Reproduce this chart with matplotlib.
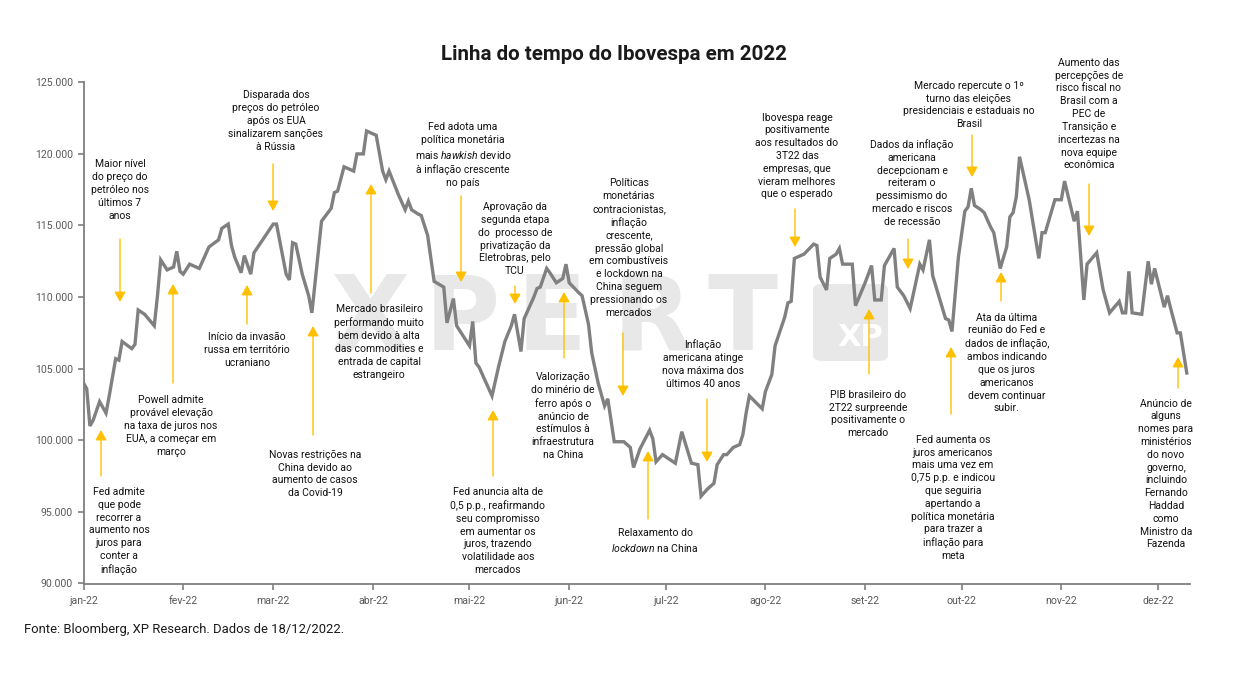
import matplotlib
matplotlib.use("Agg")
import matplotlib.pyplot as plt
from matplotlib.ticker import FuncFormatter
from matplotlib.patches import FancyBboxPatch
import pandas as pd

plt.rcParams['font.family'] = ['Roboto', 'DejaVu Sans']
plt.rcParams['mathtext.fontset'] = 'custom'
plt.rcParams['mathtext.rm'] = 'Roboto'
plt.rcParams['mathtext.it'] = 'Roboto:italic'

W, H = 1252, 674

# datas (mm-dd) e fechamento aproximado do Ibovespa (mil pontos)
datas = [
    "01-01", "01-02", "01-03", "01-04", "01-06", "01-08", "01-09", "01-11", "01-12", "01-13",
    "01-16", "01-17", "01-18", "01-20", "01-23", "01-24", "01-25", "01-27", "01-29", "01-30", "01-31",
    "02-01", "02-03", "02-06", "02-07", "02-09", "02-12", "02-13", "02-15", "02-16", "02-17",
    "02-19", "02-20", "02-22", "02-23",
    "03-01", "03-02", "03-05", "03-06", "03-07", "03-08", "03-10", "03-12", "03-13", "03-16",
    "03-19", "03-20", "03-21", "03-23", "03-26", "03-27", "03-29", "03-30",
    "04-02", "04-04", "04-05", "04-06", "04-09", "04-11", "04-12", "04-13", "04-15", "04-16",
    "04-18", "04-20", "04-23", "04-24", "04-26", "04-27",
    "05-01", "05-02", "05-03", "05-04", "05-08", "05-10", "05-12", "05-14", "05-15", "05-17",
    "05-18", "05-21", "05-22", "05-23", "05-25", "05-26", "05-28", "05-30", "05-31",
    "06-01", "06-04", "06-05", "06-07", "06-08", "06-10", "06-12", "06-13", "06-15", "06-18",
    "06-20", "06-21", "06-23", "06-26", "06-27", "06-28", "06-30",
    "07-04", "07-06", "07-09", "07-11", "07-12", "07-14", "07-16", "07-17", "07-19", "07-20",
    "07-22", "07-24", "07-25", "07-26", "07-27", "07-31",
    "08-01", "08-03", "08-04", "08-07", "08-08", "08-09", "08-10", "08-13", "08-16", "08-17",
    "08-18", "08-20", "08-21", "08-23", "08-24", "08-25", "08-28", "08-29",
    "09-01", "09-03", "09-04", "09-06", "09-07", "09-10", "09-11", "09-13", "09-15", "09-18",
    "09-19", "09-21", "09-22", "09-26", "09-27", "09-28", "09-30",
    "10-02", "10-03", "10-04", "10-05", "10-07", "10-08", "10-10", "10-11", "10-13", "10-15",
    "10-16", "10-17", "10-18", "10-19", "10-22", "10-25", "10-26", "10-27", "10-30",
    "11-01", "11-02", "11-05", "11-06", "11-08", "11-09", "11-12", "11-14", "11-16", "11-19",
    "11-20", "11-21", "11-22", "11-23", "11-26", "11-28", "11-29", "11-30",
    "12-03", "12-04", "12-05", "12-07", "12-08", "12-10",
]
ibov = [
    104.0, 103.6, 101.0, 101.4, 102.7, 101.9, 103.1, 105.7, 105.6, 106.9,
    106.4, 106.7, 109.1, 108.8, 108.0, 110.1, 112.6, 111.9, 112.1, 113.2, 111.8,
    111.6, 112.3, 112.0, 112.5, 113.5, 114.0, 114.8, 115.1, 113.6, 112.8,
    111.7, 112.9, 111.6, 113.1,
    115.1, 115.1, 111.6, 111.2, 113.8, 113.7, 111.6, 110.1, 108.9, 115.3,
    116.2, 117.3, 117.4, 119.1, 118.8, 120.0, 120.0, 121.6,
    121.3, 118.8, 118.2, 118.8, 117.1, 116.1, 116.7, 116.1, 115.8, 115.7,
    114.3, 111.1, 110.7, 108.2, 109.9, 108.0,
    106.6, 108.3, 105.4, 105.1, 103.1, 105.1, 106.9, 108.0, 108.8, 106.2,
    108.5, 110.0, 110.6, 110.7, 112.0, 111.7, 111.0, 111.3, 112.3,
    111.0, 110.3, 110.1, 108.1, 106.1, 104.0, 102.4, 102.9, 99.9, 99.9,
    99.5, 98.1, 99.4, 100.7, 100.1, 98.5, 99.0,
    98.4, 100.6, 98.4, 98.3, 96.1, 96.6, 97.0, 98.3, 99.0, 99.0,
    99.5, 99.7, 100.4, 101.9, 103.1, 102.2,
    103.4, 104.6, 106.6, 108.6, 109.6, 109.7, 112.7, 113.0, 113.7, 113.6,
    111.4, 110.5, 112.7, 113.0, 113.4, 112.3, 112.3, 109.4,
    111.0, 112.2, 109.8, 109.8, 112.2, 113.4, 110.7, 110.1, 109.2, 112.3,
    111.9, 114.0, 111.5, 108.5, 108.4, 107.6, 112.8,
    116.0, 116.3, 117.6, 116.4, 116.1, 115.9, 114.9, 114.5, 112.0, 113.5,
    115.6, 115.9, 117.0, 119.8, 116.8, 112.7, 114.5, 114.5, 116.8,
    116.8, 118.1, 115.3, 116.0, 109.8, 112.3, 113.1, 110.5, 108.9, 109.7,
    108.9, 108.9, 111.8, 108.9, 108.8, 112.5, 110.9, 112.0,
    109.3, 110.1, 109.2, 107.5, 107.5, 104.7,
]
meses = ["jan-22", "fev-22", "mar-22", "abr-22", "mai-22", "jun-22",
         "jul-22", "ago-22", "set-22", "out-22", "nov-22", "dez-22"]
y_ticks = [90000, 95000, 100000, 105000, 110000, 115000, 120000, 125000]

# texto, centro x, centro y, x da seta, y inicio, y ponta  (pixels da figura)
eventos = [
    ("Maior nível\ndo preço do\npetróleo nos\núltimos 7\nanos", 120, 190, 120, 239, 302),
    ("Fed admite\nque pode\nrecorrer a\naumento nos\njuros para\nconter a\ninflação", 119, 531, 101, 476, 430),
    ("Powell admite\nprovável elevação\nna taxa de juros nos\nEUA, a começar em\nmarço", 171, 426, 173, 383, 284),
    ("Início da invasão\nrussa em território\nucraniano", 247, 350, 247, 324, 285),
    ("Disparada dos\npreços do petróleo\napós os EUA\nsinalizarem sanções\nà Rússia", 276, 121, 273, 164, 211),
    ("Novas restrições na\nChina devido ao\naumento de casos\nda Covid-19", 315, 474, 313, 435, 326),
    ("Mercado brasileiro\nperformando muito\nbem devido à alta\ndas commodities e\nentrada de capital\nestrangeiro", 379, 342, 371, 293, 184),
    ("Fed adota uma\npolítica monetária\nmais $\\it{hawkish}$ devido\nà inflação crescente\nno país", 463, 155, 461, 196, 282),
    ("Aprovação da\nsegunda etapa\ndo  processo de\nprivatização da\nEletrobras, pelo\nTCU", 515, 239, 515, 286, 304),
    ("Valorização\ndo minério de\nferro após o\nanúncio de\nestímulos à\ninfraestrutura\nna China", 563, 416, 564, 358, 292),
    ("Fed anuncia alta de\n0,5 p.p., reafirmando\nseu compromisso\nem aumentar os\njuros, trazendo\nvolatilidade aos\nmercados", 498, 531, 493, 476, 410),
    ("Políticas\nmonetárias\ncontracionistas,\ninflação\ncrescente,\npressão global\nem combustíveis\ne lockdown na\nChina seguem\npressionando os\nmercados", 629, 248, 623, 333, 396),
    ("Relaxamento do\n$\\it{lockdown}$ na China", 655, 541, 648, 519, 451),
    ("Inflação\namericana atinge\nnova máxima dos\núltimos 40 anos", 703, 364, 707, 399, 462),
    ("Ibovespa reage\npositivamente\naos resultados do\n3T22 das\nempresas, que\nvieram melhores\nque o esperado", 797, 156, 795, 209, 247),
    ("PIB brasileiro do\n2T22 surpreende\npositivamente o\nmercado", 868, 414, 869, 374, 309),
    ("Dados da inflação\namericana\ndecepcionam e\nreiteram o\npessimismo do\nmercado e riscos\nde recessão", 912, 183, 908, 239, 269),
    ("Mercado repercute o 1º\nturno das eleições\npresidenciais e estaduais no\nBrasil", 969, 105, 972, 135, 177),
    ("Fed aumenta os\njuros americanos\nmais uma vez em\n0,75 p.p. e indicou\nque seguiria\napertando a\npolítica monetária\npara trazer a\ninflação para\nmeta", 953, 498, 951, 414, 347),
    ("Ata da última\nreunião do Fed e\ndados de inflação,\nambos indicando\nque os juros\namericanos\ndevem continuar\nsubir.", 1007, 363, 1001, 301, 272),
    ("Aumento das\npercepções de\nrisco fiscal no\nBrasil com a\nPEC de\nTransição e\nincertezas na\nnova equipe\neconômica", 1089, 114, 1089, 184, 236),
    ("Anúncio de\nalguns\nnomes para\nministérios\ndo novo\ngoverno,\nincluindo\nFernando\nHaddad\ncomo\nMinistro da\nFazenda", 1166, 474, 1178, 388, 357),
]


def fp(x, y):
    return x / W, 1 - y / H


x = pd.to_datetime(["2022-" + d for d in datas])
y = [v * 1000 for v in ibov]
inicio_mes = pd.date_range("2022-01-01", periods=12, freq="MS")

fig = plt.figure(figsize=(W / 100, H / 100), dpi=100)
ax = fig.add_axes([83.5 / W, 1 - 583.5 / H, 1106.5 / W, (583.5 - 82.3) / H])

# marca d'agua
for letra, lx in zip("XPERT", [370, 462, 552, 652, 742]):
    ax.text(*fp(lx, 322), letra, transform=fig.transFigure, ha="center", va="center",
            fontsize=74, fontweight="bold", family="DejaVu Sans", color="#e8e8e8", zorder=0.3)
caixa = FancyBboxPatch(fp(813, 361), 75 / W, 77 / H, boxstyle="round,pad=0,rounding_size=0.008",
                       transform=fig.transFigure, facecolor="#e8e8e8", edgecolor="none", zorder=0.3)
ax.add_patch(caixa)
ax.text(*fp(860, 338), "XP", transform=fig.transFigure, ha="center", va="center",
        fontsize=22, fontweight="bold", family="DejaVu Sans", color="white", zorder=0.35)

ax.plot(x, y, color="#808080", lw=2.4, solid_joinstyle="miter", zorder=2)

ax.set_xlim(pd.Timestamp("2022-01-01"), pd.Timestamp("2022-01-01") + pd.Timedelta(days=344))
ax.set_ylim(90000, 125000)
ax.set_xticks(inicio_mes)
ax.set_xticklabels(meses)
ax.set_yticks(y_ticks)
ax.yaxis.set_major_formatter(FuncFormatter(lambda v, p: format(int(v), ',').replace(',', '.')))
ax.tick_params(colors="#7f7f7f", labelcolor="#595959", labelsize=7.6, length=4, width=1.2)
ax.tick_params(axis="x", pad=5)
for s in ["top", "right"]:
    ax.spines[s].set_visible(False)
for s in ["left", "bottom"]:
    ax.spines[s].set_color("#7f7f7f")
    ax.spines[s].set_linewidth(1.3)
ax.patch.set_alpha(0)

fig.text(*fp(614, 55), "Linha do tempo do Ibovespa em 2022", ha="center", va="center",
         fontsize=14.8, fontweight="bold", color="#1a1a1a")

for texto, cx, cy, axx, y0, y1 in eventos:
    fig.text(*fp(cx, cy), texto, ha="center", va="center", multialignment="center",
             fontsize=7.5, color="#111111", linespacing=1.35, zorder=5)
    ax.annotate("", xy=fp(axx, y1), xytext=fp(axx, y0), xycoords="figure fraction",
                textcoords="figure fraction", annotation_clip=False,
                arrowprops=dict(arrowstyle="-|>,head_length=0.5,head_width=0.28",
                                color="#FFC000", lw=1.0, shrinkA=0, shrinkB=0,
                                mutation_scale=12))

fig.text(*fp(24, 630), "Fonte: Bloomberg, XP Research. Dados de 18/12/2022.", ha="left", va="center",
         fontsize=9.4, color="#1a1a1a")

fig.savefig("out.png", dpi=100)
